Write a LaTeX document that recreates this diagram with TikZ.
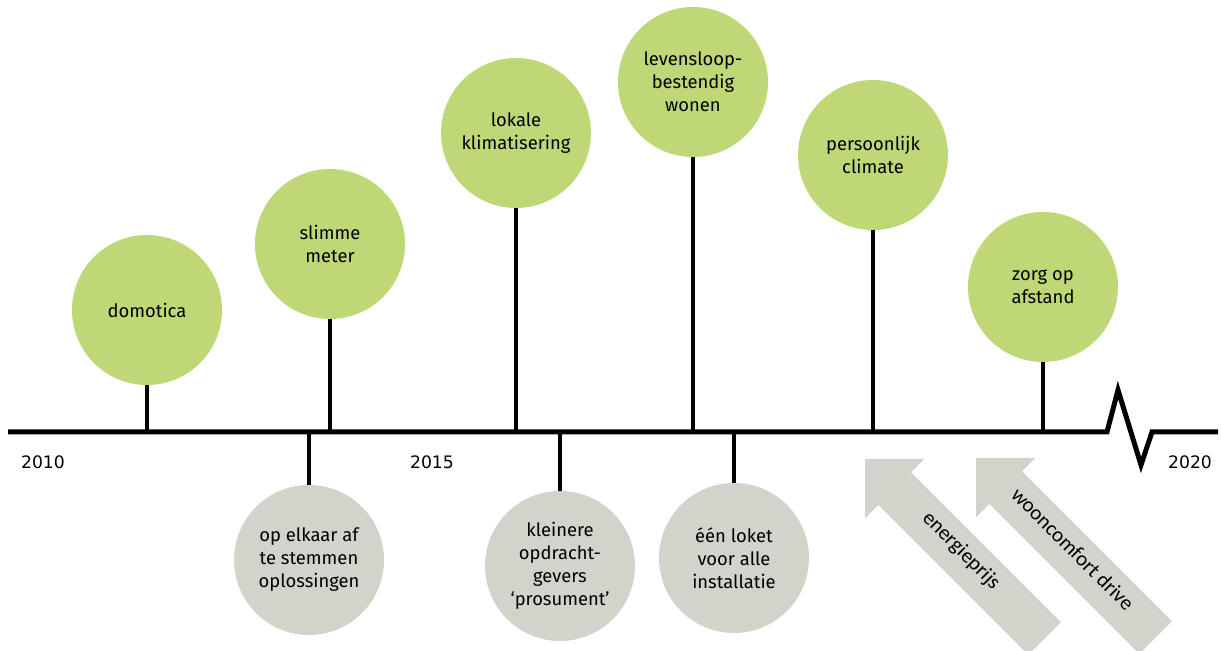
\documentclass[tikz,border=0pt]{standalone}
\usepackage{fontspec}
\setmainfont{Fira Sans}
\newfontfamily\pijlfont{Carlito}
\newfontfamily\jaarfont{DejaVu Sans}
\usetikzlibrary{positioning}
\definecolor{bolgroen}{RGB}{190,216,120}
\definecolor{bolgrijs}{RGB}{211,210,203}
\begin{document}
\begin{tikzpicture}[x=0.5pt,y=-0.5pt,
  groenbol/.style={circle,fill=bolgroen,minimum size=75pt,inner sep=0pt,align=center,
    font=\fontsize{9.2}{11.5}\selectfont},
  grijsbol/.style={circle,fill=bolgrijs,minimum size=75pt,inner sep=0pt,align=center,
    font=\fontsize{9.2}{11.5}\selectfont},
  steel/.style={line width=2pt},
  tijdlijn/.style={line width=2.5pt,line join=miter},
  jaar/.style={font=\jaarfont\fontsize{8.6}{10}\selectfont},
  pijl/.style={fill=bolgrijs},
  pijltekst/.style={font=\pijlfont\fontsize{10.5}{12}\selectfont,rotate=-45}]
\useasboundingbox (0,0) rectangle (1222,651);
\clip (0,0) rectangle (1222,651);
% tijdlijn met onderbreking
\coordinate (begin) at (8,432);
\coordinate (knik1) at (1107,432);
\coordinate (piek) at (1118,390);
\coordinate (dal) at (1141,465);
\coordinate (knik2) at (1152,432);
\coordinate (eind) at (1218,432);
\draw[tijdlijn] (begin) -- (knik1) -- (piek) -- (dal) -- (knik2) -- (eind);
\node[jaar] (j2010) at (43,462) {2010};
\node[jaar] (j2015) at (432,462) {2015};
\node[jaar] (j2020) at (1190,462) {2020};
% boven de lijn
\node[groenbol] (domotica) at (147,310) {domotica};
\node[groenbol] (slim) at (330,244) {slimme\\meter};
\node[groenbol] (klimaat) at (516,133) {lokale\\klimatisering};
\node[groenbol] (levensloop) at (693,82) {levensloop-\\bestendig\\wonen};
\node[groenbol] (persoonlijk) at (873,155) {persoonlijk\\climate};
\node[groenbol] (zorg) at (1043,287) {zorg op\\afstand};
\draw[steel] (domotica) -- (domotica |- begin);
\draw[steel] (slim) -- (slim |- begin);
\draw[steel] (klimaat) -- (klimaat |- begin);
\draw[steel] (levensloop) -- (levensloop |- begin);
\draw[steel] (persoonlijk) -- (persoonlijk |- begin);
\draw[steel] (zorg) -- (zorg |- begin);
% onder de lijn
\node[grijsbol] (elkaar) at (309,560) {op elkaar af\\te stemmen\\oplossingen};
\node[grijsbol] (prosument) at (560,566) {kleinere\\opdracht-\\gevers\\‘prosument’};
\node[grijsbol] (loket) at (734,558) {één loket\\voor alle\\installatie};
\draw[steel] (elkaar) -- (elkaar |- begin);
\draw[steel] (prosument) -- (prosument |- begin);
\draw[steel] (loket) -- (loket |- begin);
% drijfveren
\coordinate (punt1) at (865,459);
\coordinate (punt2) at (976,458);
\fill[pijl,shift={(punt1)},rotate=-45] (0,0) -- (42,42) -- (42,23) -- (254,23)
  -- (254,-23) -- (42,-23) -- (42,-42) -- cycle;
\fill[pijl,shift={(punt2)},rotate=-45] (0,0) -- (42,42) -- (42,23) -- (254,23)
  -- (254,-23) -- (42,-23) -- (42,-42) -- cycle;
\node[pijltekst] (energie) at (961,551) {energieprijs};
\node[pijltekst] (comfort) at (1073,549) {wooncomfort drive};
\end{tikzpicture}
\end{document}
